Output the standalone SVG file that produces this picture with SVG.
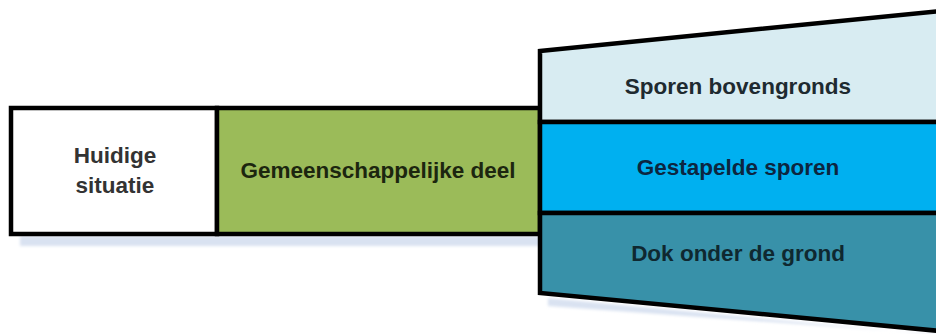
<svg xmlns="http://www.w3.org/2000/svg" width="936" height="334" viewBox="0 0 936 334">
<defs>
<filter id="blur" x="-5%" y="-20%" width="110%" height="140%"><feGaussianBlur stdDeviation="1.5"/></filter>
</defs>
<style>
.lbl{font-family:"Liberation Sans",Arial,sans-serif;font-weight:bold;font-size:22.5px;text-anchor:middle}
.box{stroke:#000;stroke-width:4.5;stroke-linejoin:miter}
.shadow{fill:#d9e2f1}
</style>
<rect width="936" height="334" fill="#ffffff"/>
<g id="shadows" filter="url(#blur)">
<rect class="shadow" x="20" y="236" width="522" height="10"/>
<polygon class="shadow" points="548,298 936,335 936,334 548,306"/>
</g>
<g id="connectors"></g>
<g id="node-huidige">
<rect class="box" x="11" y="108" width="206" height="126" fill="#ffffff"/>
<text class="lbl" x="115" y="163" fill="#333333">Huidige</text>
<text class="lbl" x="115" y="193" fill="#333333">situatie</text>
</g>
<g id="node-gemeenschappelijk">
<rect class="box" x="217" y="108" width="323" height="126" fill="#9bbb59"/>
<text class="lbl" x="378" y="178" fill="#1c260f">Gemeenschappelijke deel</text>
</g>
<g id="node-bovengronds">
<polygon class="box" points="540,51 940,11 940,122 540,122" fill="#d8ecf2"/>
<text class="lbl" x="738" y="94" fill="#1e2a30">Sporen bovengronds</text>
</g>
<g id="node-gestapeld">
<polygon class="box" points="540,122 940,122 940,213 540,213" fill="#00b0f0"/>
<text class="lbl" x="738" y="175" fill="#0c2640">Gestapelde sporen</text>
</g>
<g id="node-dok">
<polygon class="box" points="540,213 940,213 940,331 540,293" fill="#3891a9"/>
<text class="lbl" x="738" y="261" fill="#0f2830">Dok onder de grond</text>
</g>
</svg>
